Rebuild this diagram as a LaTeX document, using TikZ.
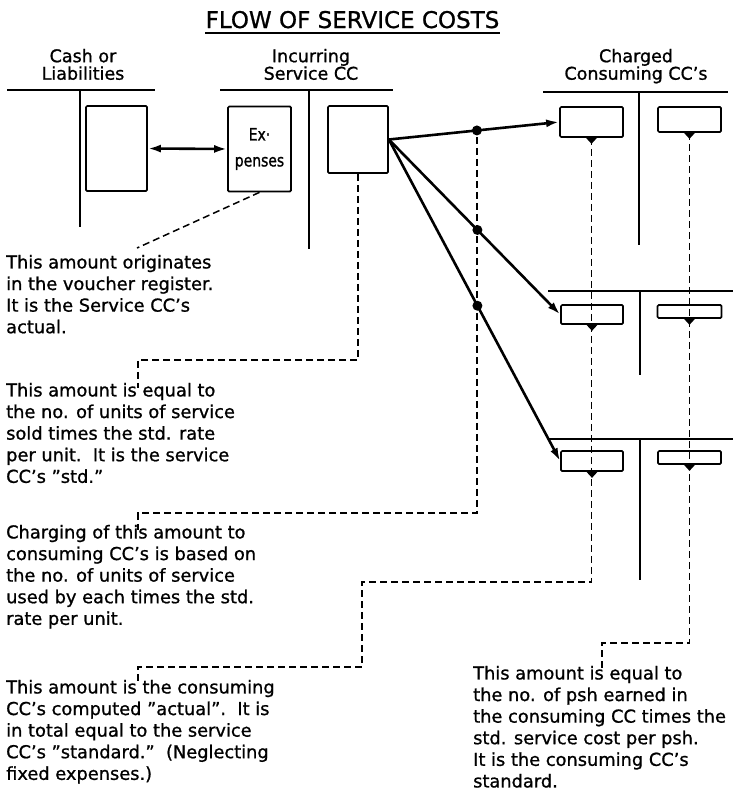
\documentclass[tikz,border=0pt]{standalone}
\usepackage{fontspec}
\setmainfont{DejaVu Sans}[FakeBold=1]
\newfontfamily\narrowfont[FakeStretch=0.82,FakeBold=1.2]{DejaVu Sans}
\usetikzlibrary{arrows.meta}

\begin{document}
\begin{tikzpicture}[x=1pt,y=-1pt,
  tline/.style={line width=1.8pt},
  box/.style={draw,line width=1.7pt,rounded corners=1.2pt,inner sep=0pt},
  flow/.style={line width=2.6pt,-{Latex[length=13pt,width=8pt]}},
  lead/.style={line width=1.5pt,dash pattern=on 7pt off 4pt},
  dot/.style={circle,fill,inner sep=0pt,minimum size=10pt},
  note/.style={anchor=north west,inner sep=0pt,align=left,font=\fontsize{17.8}{21.6}\selectfont},
  head/.style={anchor=north,inner sep=0pt,align=center,font=\fontsize{17.5}{17.5}\selectfont}]
\useasboundingbox (0,0) rectangle (733,806);
% title and column heads
\node[anchor=base,inner sep=0pt,font=\fontsize{23}{23}\selectfont] (title) at (352.5,28) {FLOW OF SERVICE COSTS};
\draw[tline] ([yshift=-5pt]title.base west)--([yshift=-5pt]title.base east);
\node[head] (hcash) at (83,48.7) {Cash or\\Liabilities};
\node[head] (hsvc) at (311,48.7) {Incurring\\Service CC};
\node[head] (hchg) at (636,48.7) {Charged\\Consuming CC's};
% T accounts
\draw[tline] (7,90)--(155,90) (80,90)--(80,227);
\draw[tline] (220,90)--(393,90) (309,90)--(309,249);
\draw[tline] (543,92)--(728,92) (639,92)--(639,245);
\draw[tline] (548,291)--(733,291) (640,291)--(640,375);
\draw[tline] (548,439)--(733,439) (640,439)--(640,580);
% boxes
\node[box,minimum width=61pt,minimum height=85pt] (cash) at (116.5,148.5) {};
\node[box,minimum width=63pt,minimum height=85pt,align=center,font=\narrowfont\fontsize{17}{26}\selectfont] (exp) at (259.5,149) {Ex·\\penses};
\node[box,minimum width=60pt,minimum height=67pt] (svc) at (358,139.5) {};
\node[box,minimum width=63pt,minimum height=30pt] (c11) at (591.5,122) {};
\node[box,minimum width=63pt,minimum height=25pt] (c12) at (689.5,119.5) {};
\node[box,minimum width=62pt,minimum height=19pt] (c21) at (592,314.5) {};
\node[box,minimum width=64pt,minimum height=13pt] (c22) at (689.5,311.5) {};
\node[box,minimum width=62pt,minimum height=20pt] (c31) at (592,461) {};
\node[box,minimum width=63pt,minimum height=13pt] (c32) at (689.5,457.5) {};
\foreach \b in {c11,c12,c21,c22,c31,c32}
  \fill (\b.south) ++(-5.5,0) -- ++(11,0) -- ++(-5.5,6) -- cycle;
% flows
\draw[line width=2.6pt,{Latex[length=13pt,width=8pt]}-{Latex[length=13pt,width=8pt]}] (cash.east)--(exp.west);
\draw[flow] (svc.east) -- node[dot,pos=.517] (d1) {} (c11.west);
\draw[flow] (svc.east) -- node[dot,pos=.517] (d2) {} (c21.west);
\draw[flow] (svc.east) -- node[dot,pos=.517] (d3) {} (c31.west);
% notes
\node[note] (note1) at (6,254.7) {This amount originates\\in the voucher register.\\It is the Service CC's\\actual.};
\node[note] (note2) at (6,382.7) {This amount is equal to\\the no. of units of service\\sold times the std. rate\\per unit.\ \ It is the service\\CC's "std."};
\node[note] (note3) at (6,524.7) {Charging of this amount to\\consuming CC's is based on\\the no. of units of service\\used by each times the std.\\rate per unit.};
\node[note] (note4) at (6,679.7) {This amount is the consuming\\CC's computed "actual".\ \ It is\\in total equal to the service\\CC's "standard."\ \ (Neglecting\\fixed expenses.)};
\node[note] (note5) at (473,665.7) {This amount is equal to\\the no. of psh earned in\\the consuming CC times the\\std. service cost per psh.\\It is the consuming CC's\\standard.};
% leaders
\coordinate (k1) at (137,248);
\coordinate (k2) at (138,360);
\coordinate (k3) at (138,513);
\coordinate (kA) at (362,582);
\coordinate (k4) at (138,667);
\coordinate (k5) at (602,643);
\draw[lead] (exp.south)--(k1);
\draw[lead] (svc.south) |- (k2) -- ([yshift=-5pt]k2 |- note2.north);
\draw[lead] (d1) |- (k3) -- ([yshift=-5pt]k3 |- note3.north);
\draw[lead] (c11.south) |- (kA) |- (k4) -- ([yshift=-5pt]k4 |- note4.north);
\draw[lead] (c12.south) |- (k5) -- ([yshift=-5pt]k5 |- note5.north);
\end{tikzpicture}
\end{document}
